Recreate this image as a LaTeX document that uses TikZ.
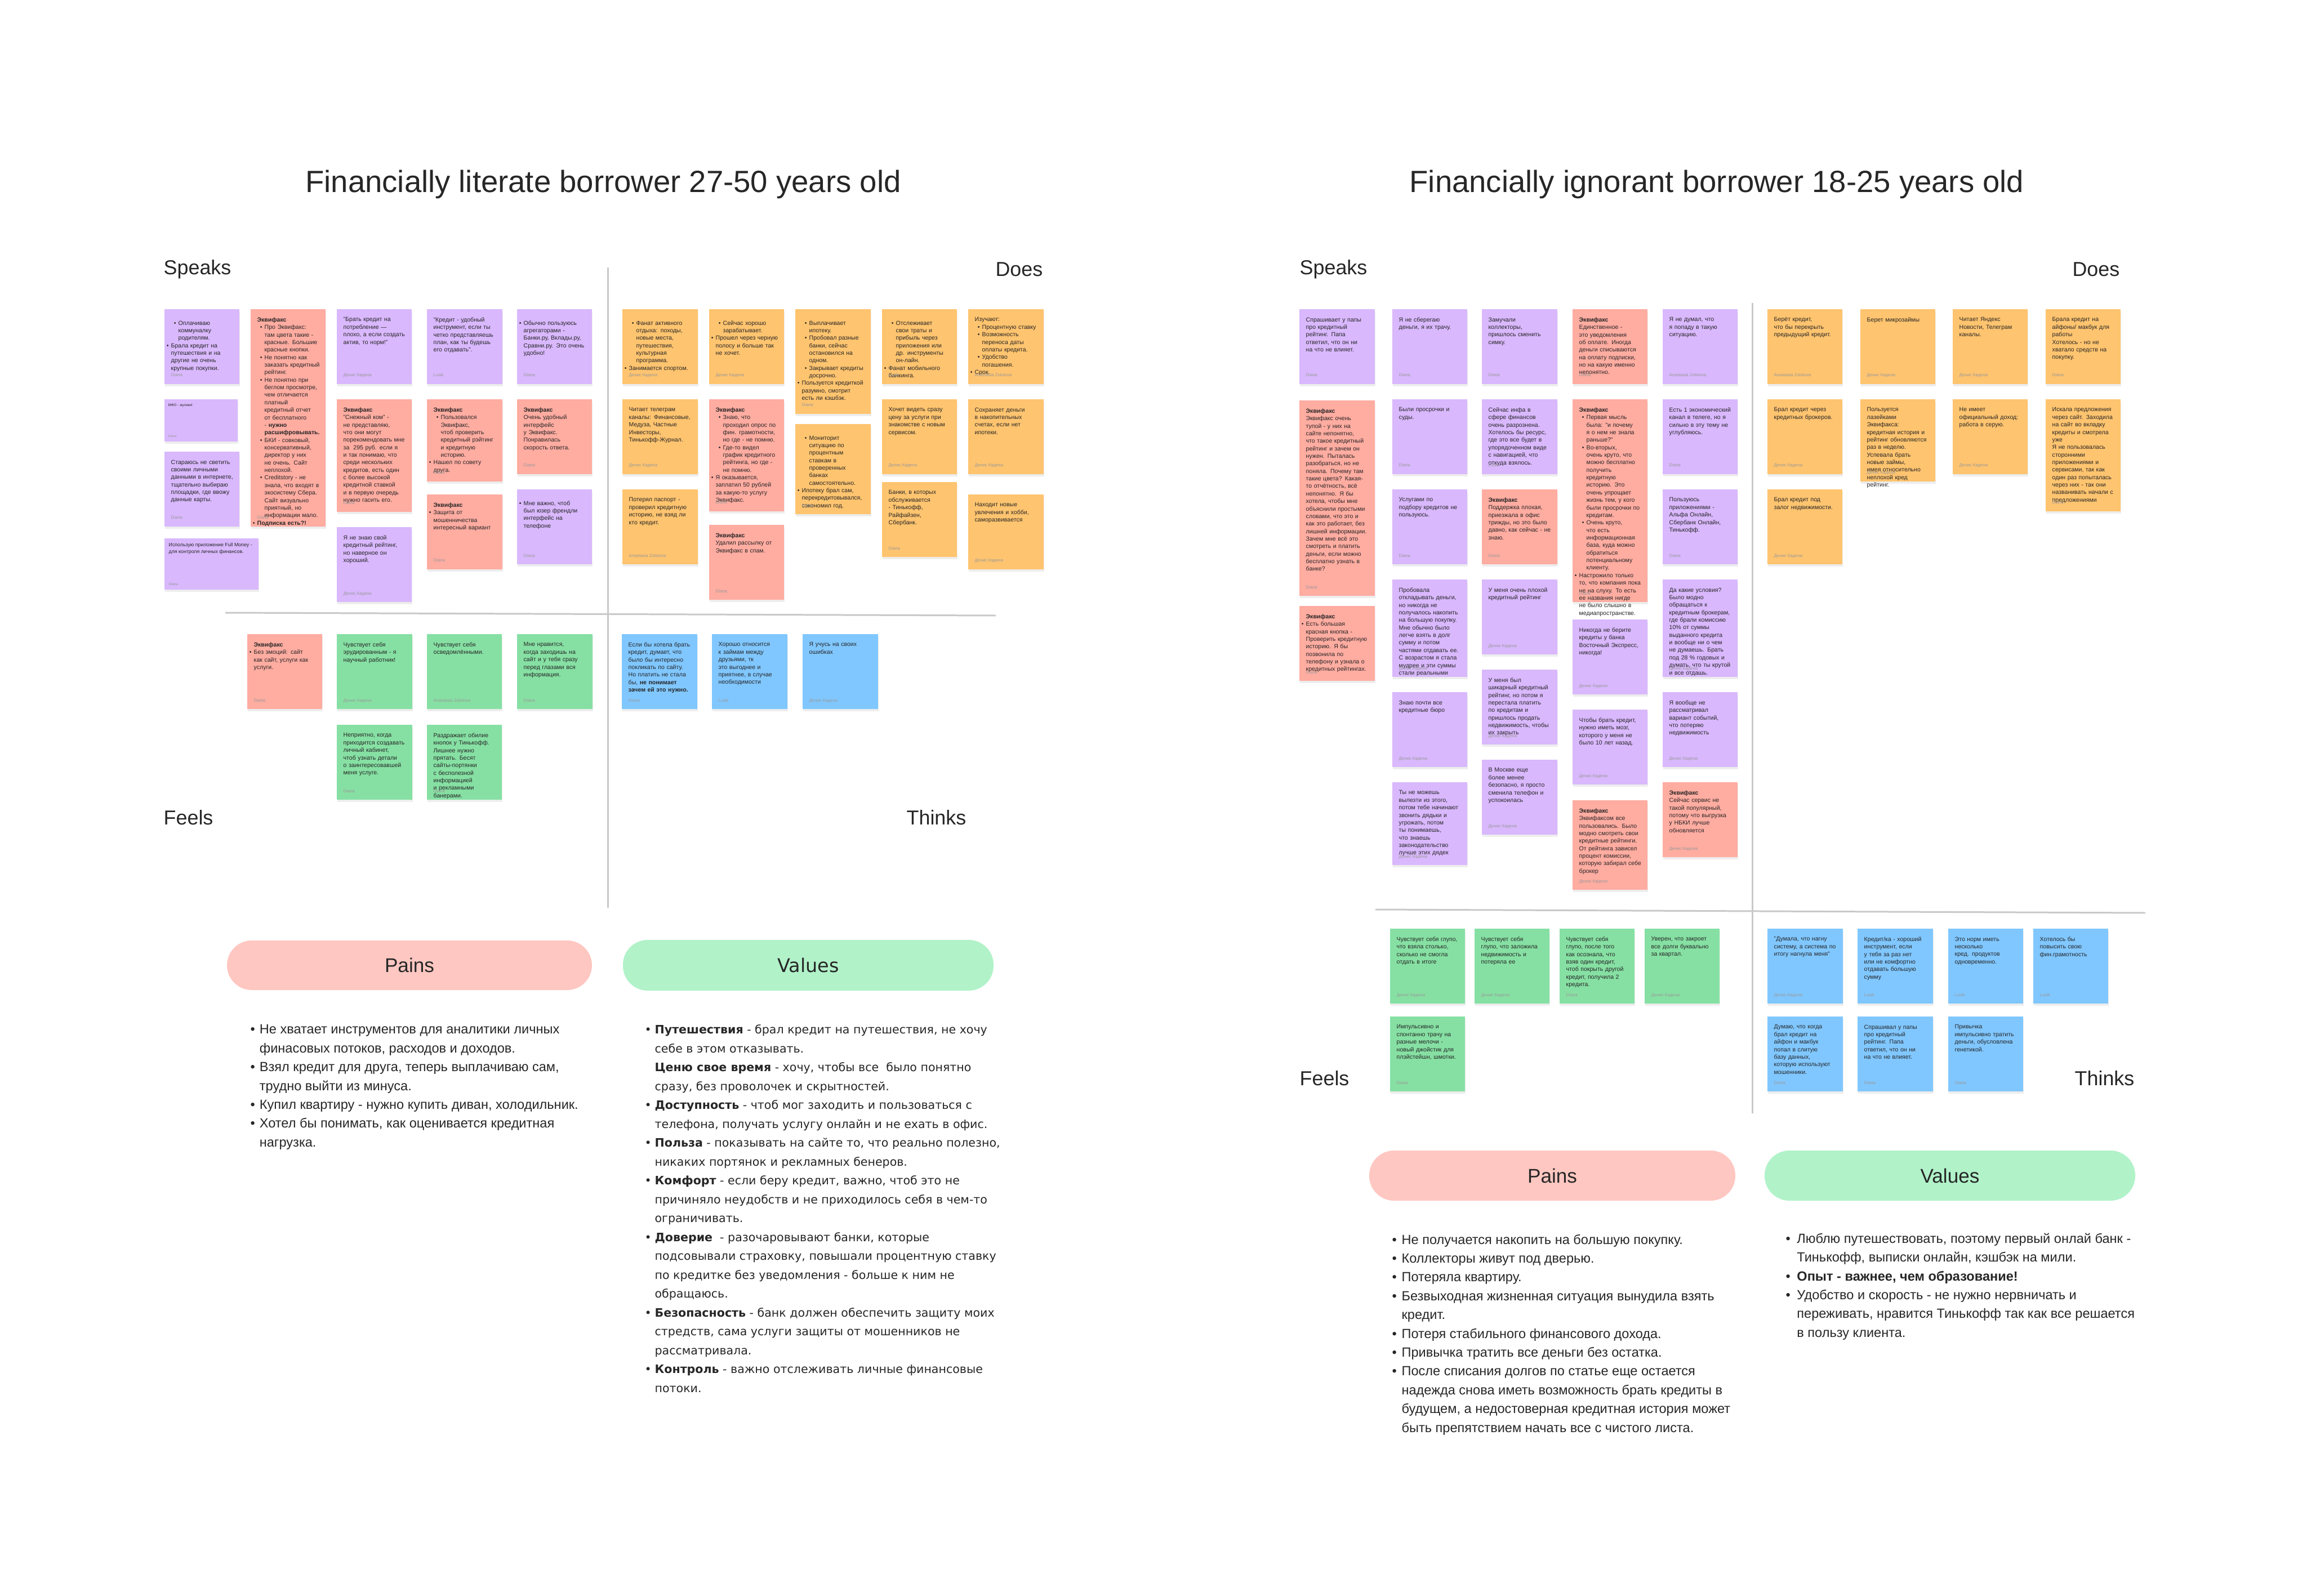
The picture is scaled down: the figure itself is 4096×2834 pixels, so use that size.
\documentclass[tikz,border=0pt]{standalone}
\usepackage{fontspec}
\setmainfont{Liberation Sans}
\newfontfamily\widefont{DejaVu Sans}
\usetikzlibrary{calc}
\definecolor{np}{HTML}{D9B8FD}
\definecolor{nr}{HTML}{FFACA1}
\definecolor{no}{HTML}{FFC46F}
\definecolor{ng}{HTML}{86E0A3}
\definecolor{nb}{HTML}{80C7FF}
\definecolor{pinkpill}{HTML}{FFC7C1}
\definecolor{greenpill}{HTML}{B1F2C9}
\definecolor{axisc}{HTML}{C9C9C9}
\definecolor{txt}{HTML}{262626}
\definecolor{auth}{HTML}{9A9A9A}
\newcommand\bi{\par\hangindent=3.7pt\hangafter=0\noindent\llap{\textbullet\hspace{1.2pt}}}
\newcommand\lbul[1]{\makebox[#1][l]{\textbullet}}
\newcommand\lind[1]{\hspace*{#1}}
\newcommand\sticky[8]{%
  \fill[black,opacity=0.07] (#3+1,#4+4) rectangle ++(#5,#6);
  \fill[#2] (#3,#4) rectangle ++(#5,#6);
  \node[notetext,anchor=north west] (#1) at (#3+11,#4+14) {\parindent=0pt #7};
  \node[authortext,anchor=base west] (#1a) at (#3+11,#4+#6-13) {#8};
}
\begin{document}
\begin{tikzpicture}[x=0.01cm,y=-0.01cm,
  notetext/.style={inner sep=0pt,text width=1.11cm,align=left,text=txt,font=\fontsize{3}{3.8}\selectfont},
  authortext/.style={inner sep=0pt,text=auth,font=\fontsize{2.2}{2.6}\selectfont},
  title/.style={inner sep=0pt,text=txt,font=\fontsize{15.5}{18}\selectfont},
  quad/.style={inner sep=0pt,text=txt,font=\fontsize{10.2}{12}\selectfont},
  axisline/.style={draw=axisc,line width=0.85pt},
  pill/.style={rounded corners=12.5pt},
  pilltext/.style={inner sep=0pt,text=txt,font=\fontsize{10}{12}\selectfont},
  listtext/.style={inner sep=0pt,align=left,text=txt,font=\fontsize{6.7}{9.5}\selectfont},
  widelist/.style={inner sep=0pt,align=left,text=txt,font=\widefont\fontsize{5.85}{9.53}\selectfont}]
\useasboundingbox[fill=white] (0,0) rectangle (4096,2834);

% ---------------- titles ----------------
\node[title] (titleL) at (1071,327) {Financially literate borrower 27-50 years old};
\node[title] (titleR) at (3048,327) {Financially ignorant borrower 18-25 years old};

% ---------------- axes ----------------
\coordinate (lvt) at (1079,475); \coordinate (lvb) at (1079,1612);
\coordinate (lhl) at (400,1088); \coordinate (lhr) at (1768,1093);
\coordinate (rvt) at (3111,538); \coordinate (rvb) at (3111,1977);
\coordinate (rhl) at (2442,1615); \coordinate (rhr) at (3809,1621);
\draw[axisline] (lvt) -- (lvb);
\draw[axisline] (lhl) -- (lhr);
\draw[axisline] (rvt) -- (rvb);
\draw[axisline] (rhl) -- (rhr);

% ---------------- quadrant labels ----------------
\node[quad,anchor=west] (speaksL) at (290,478) {Speaks};
\node[quad,anchor=east] (doesL) at (1852,478) {Does};
\node[quad,anchor=west] (feelsL) at (290,1452) {Feels};
\node[quad,anchor=east] (thinksL) at (1716,1452) {Thinks};
\node[quad,anchor=west] (speaksR) at (2307,478) {Speaks};
\node[quad,anchor=east] (doesR) at (3764,478) {Does};
\node[quad,anchor=west] (feelsR) at (2307,1915) {Feels};
\node[quad,anchor=east] (thinksR) at (3790,1915) {Thinks};

% ================= LEFT: SPEAKS =================
\sticky{s1}{np}{292}{549}{133}{133}{\bi Оплачиваю коммуналку родителям.\bi Брала кредит на путешествия и на другие не очень крупные покупки.}{Diana}
% small note
\fill[black,opacity=0.07] (293,713) rectangle (423,788);
\fill[np] (292,709) rectangle (422,784);
\node[inner sep=0pt,anchor=north west,text=txt,font=\fontsize{1.8}{2.2}\selectfont] (s2) at (298,716) {МФО - жулики!};
\node[authortext,anchor=base west,font=\fontsize{1.6}{2}\selectfont] (s2a) at (298,777) {Diana};
\sticky{s3}{np}{292}{802}{133}{133}{Стараюсь не светить своими личными данными в интернете, тщательно выбираю площадки, где ввожу данные карты.}{Diana}
% wide note
\fill[black,opacity=0.07] (293,960) rectangle (460,1051);
\fill[np] (292,956) rectangle (459,1047);
\node[inner sep=0pt,anchor=north west,text=txt,align=left,font=\fontsize{2.5}{3.6}\selectfont] (s4) at (299,963) {Использую приложение Full Money -\\для контроля личных финансов.};
\node[authortext,anchor=base west,font=\fontsize{1.8}{2}\selectfont] (s4a) at (299,1039) {Diana};

\sticky{s5}{nr}{445}{549}{133}{386}{\textbf{Эквифакс}\bi Про Эквифакс: там цвета такие - красные. Большие красные кнопки.\bi Не понятно как заказать кредитный рейтинг.\bi Не понятно при беглом просмотре, чем отличается платный кредитный отчет от бесплатного - \textbf{нужно расшифровывать.}\bi БКИ - совковый, консервативный, директор у них не очень. Сайт неплохой.\bi Creditstory - не знала, что входят в экосистему Сбера. Сайт визуально приятный, но информации мало.\bi \textbf{Подписка есть?!}}{Diana}

\sticky{s6}{np}{598}{549}{133}{133}{"Брать кредит на потребление — плохо, а если создать актив, то норм!"}{Денис Кадена}
\sticky{s7}{nr}{598}{709}{133}{200}{\textbf{Эквифакс}\par "Снежный ком" - не представляю, что они могут порекомендовать мне за~~295 руб. если я и так понимаю, что среди нескольких кредитов, есть один с более высокой кредитной ставкой и в первую очередь нужно гасить его.}{Diana}
\sticky{s8}{np}{598}{936}{133}{133}{Я не знаю свой кредитный рейтинг, но наверное он хороший.}{Денис Кадена}

\sticky{s9}{np}{758}{549}{134}{133}{"Кредит - удобный инструмент, если ты четко представляешь план, как ты будешь его отдавать".}{Lusik}
\sticky{s10}{nr}{758}{709}{134}{146}{\textbf{Эквифакс}\bi Пользовался Эквифакс, чтоб проверить кредитный рэйтинг и кредитную историю.\bi Нашел по совету друга.}{Diana}
\sticky{s11}{nr}{758}{878}{134}{133}{\textbf{Эквифакс}\bi Защита от мошенничества интересный вариант}{Diana}

\sticky{s12}{np}{918}{549}{133}{133}{\bi Обычно пользуюсь агрегаторами - Банки.ру, Вклады.ру, Сравни.ру. Это очень удобно!}{Diana}
\sticky{s13}{nr}{918}{709}{133}{133}{\textbf{Эквифакс}\par Очень удобный интерфейс у Эквифакс. Понравилась скорость ответа.}{Diana}
\sticky{s14}{np}{918}{869}{133}{133}{\bi Мне важно, чтоб был юзер френдли интерфейс на телефоне}{Diana}

% ================= LEFT: DOES =================
\sticky{d1}{no}{1105}{549}{134}{133}{\bi Фанат активного отдыха: походы, новые места, путешествия, культурная программа.\bi Занимается спортом.}{Денис Кадена}
\sticky{d2}{no}{1105}{709}{134}{133}{Читает телеграм каналы: Финансовые, Медуза, Частные Инвесторы, Тинькофф-Журнал.}{Денис Кадена}
\sticky{d3}{no}{1105}{869}{134}{133}{Потерял паспорт - проверил кредитную историю, не взяд ли кто кредит.}{Anastasia Zolotova}
\sticky{d4}{no}{1259}{549}{133}{133}{\bi Сейчас хорошо зарабатывает.\bi Прошел через черную полосу и больше так не хочет.}{Денис Кадена}
\sticky{d5}{nr}{1259}{709}{133}{199}{\textbf{Эквифакс}\bi Знаю, что проходил опрос по фин. грамотности, но где - не помню.\bi Где-то видел график кредитного рейтинга, но где - не помню.\bi Я оказывается, заплатил 50 рублей за какую-то услугу Эквифакс.}{Diana}
\sticky{d6}{nr}{1259}{932}{133}{133}{\textbf{Эквифакс}\par Удалил рассылку от Эквифакс в спам.}{Diana}
\sticky{d7}{no}{1412}{549}{134}{186}{\bi Выплачивает ипотеку.\bi Пробовал разные банки, сейчас остановился на одном.\bi Закрывает кредиты досрочно.\bi Пользуется кредиткой разумно, смотрит есть ли кэшбэк.}{Diana}
\sticky{d8}{no}{1412}{753}{134}{160}{\bi Мониторит ситуацию по процентным ставкам в проверенных банках самостоятельно.\bi Ипотеку брал сам, перекредитовывался, сэкономил год.}{Diana}
\sticky{d9}{no}{1566}{549}{133}{133}{\bi Отслеживает свои траты и прибыль через приложения или др. инструменты он-лайн.\bi Фанат мобильного банкинга.}{Lusik}
\sticky{d10}{no}{1566}{709}{133}{133}{Хочет видеть сразу цену за услуги при знакомстве с новым сервисом.}{Денис Кадена}
\sticky{d11}{no}{1566}{856}{133}{133}{Банки, в которых обслуживается - Тинькофф, Райфайзен, Сбербанк.}{Diana}
\sticky{d12}{no}{1719}{549}{134}{133}{Изучают:\bi Процентную ставку\bi Возможность переноса даты оплаты кредита.\bi Удобство погашения.\bi Срок.}{Anastasia Zolotova}
\sticky{d13}{no}{1719}{709}{134}{133}{Сохраняет деньги в накопительных счетах, если нет ипотеки.}{Денис Кадена}
\sticky{d14}{no}{1719}{878}{134}{133}{Находит новые увлечения и хобби, саморазвивается}{Денис Кадена}

% ================= LEFT: FEELS / THINKS =================
\sticky{f1}{nr}{439}{1126}{133}{133}{\textbf{Эквифакс}\bi Без эмоций: сайт как сайт, услуги как услуги.}{Diana}
\sticky{f2}{ng}{598}{1126}{134}{133}{Чувствует себя эрудированным - я научный работник!}{Денис Кадена}
\sticky{f3}{ng}{758}{1126}{133}{133}{Чувствует себя осведомлёнными.}{Anastasia Zolotova}
\sticky{f4}{ng}{918}{1126}{134}{133}{Мне нравится, когда заходишь на сайт и у тебя сразу перед глазами вся информация.}{Diana}
\sticky{f5}{ng}{598}{1287}{134}{133}{Неприятно, когда приходится создавать личный кабинет, чтоб узнать детали о заинтересовавшей меня услуге.}{Diana}
\sticky{f6}{ng}{758}{1287}{133}{133}{Раздражает обилие кнопок у Тинькофф. Лишнее нужно прятать. Бесят сайты-портянки с бесполезной информацией и рекламными банерами.}{Diana}
\sticky{t1}{nb}{1104}{1126}{134}{133}{Если бы хотела брать кредит, думает, что было бы интересно покликать по сайту. Но платить не стала бы, \textbf{не понимает зачем ей это нужно.}}{Diana}
\sticky{t2}{nb}{1264}{1126}{134}{133}{Хорошо относится к займам между друзьями, тк это выгоднее и приятнее, в случае необходимости}{Lusik}
\sticky{t3}{nb}{1425}{1126}{134}{133}{Я учусь на своих ошибках}{Денис Кадена}

% ================= LEFT: PAINS / VALUES =================
\fill[pinkpill,pill] (403,1670) rectangle (1051,1758);
\node[pilltext] (painsL) at (727,1714) {Pains};
\fill[greenpill,pill] (1106,1669) rectangle (1764,1759);
\node[pilltext,font=\widefont\fontsize{9.5}{12}\selectfont] (valuesL) at (1435,1714) {Values};

\node[listtext,anchor=north west] (painsLlist) at (444,1819) {%
\lbul{4.6pt}Не хватает инструментов для аналитики личных\\
\lind{4.6pt}финасовых потоков, расходов и доходов.\\
\lbul{4.6pt}Взял кредит для друга, теперь выплачиваю сам,\\
\lind{4.6pt}трудно выйти из минуса.\\
\lbul{4.6pt}Купил квартиру - нужно купить диван, холодильник.\\
\lbul{4.6pt}Хотел бы понимать, как оценивается кредитная\\
\lind{4.6pt}нагрузка.};

\node[widelist,anchor=north west] (valuesLlist) at (1144,1819) {%
\lbul{5.1pt}\textbf{Путешествия} - брал кредит на путешествия, не хочу\\
\lind{5.1pt}себе в этом отказывать.\\
\lind{5.1pt}\textbf{Ценю свое время} - хочу, чтобы все\ \ было понятно\\
\lind{5.1pt}сразу, без проволочек и скрытностей.\\
\lbul{5.1pt}\textbf{Доступность} - чтоб мог заходить и пользоваться с\\
\lind{5.1pt}телефона, получать услугу онлайн и не ехать в офис.\\
\lbul{5.1pt}\textbf{Польза} - показывать на сайте то, что реально полезно,\\
\lind{5.1pt}никаких портянок и рекламных бенеров.\\
\lbul{5.1pt}\textbf{Комфорт} - если беру кредит, важно, чтоб это не\\
\lind{5.1pt}причиняло неудобств и не приходилось себя в чем-то\\
\lind{5.1pt}ограничивать.\\
\lbul{5.1pt}\textbf{Доверие}\ \ - разочаровывают банки, которые\\
\lind{5.1pt}подсовывали страховку, повышали процентную ставку\\
\lind{5.1pt}по кредитке без уведомления - больше к ним не\\
\lind{5.1pt}обращаюсь.\\
\lbul{5.1pt}\textbf{Безопасность} - банк должен обеспечить защиту моих\\
\lind{5.1pt}стредств, сама услуги защиты от мошенников не\\
\lind{5.1pt}рассматривала.\\
\lbul{5.1pt}\textbf{Контроль} - важно отслеживать личные финансовые\\
\lind{5.1pt}потоки.};

% ================= RIGHT: SPEAKS =================
\sticky{ra1}{np}{2307}{549}{134}{133}{Спрашивает у папы про кредитный рейтинг. Папа ответил, что он ни на что не влияет.}{Diana}
\sticky{ra2}{nr}{2307}{711}{134}{347}{\textbf{Эквифакс}\par Эквифакс очень тупой - у них на сайте непонятно, что такое кредитный рейтинг и зачем он нужен. Пыталась разобраться, но не поняла. Почему там такие цвета? Какая-то отчётность, всё непонятно. Я бы хотела, чтобы мне объяснили простыми словами, что это и как это работает, без лишней информации. Зачем мне всё это смотреть и платить деньги, если можно бесплатно узнать в банке?}{Diana}
\sticky{ra3}{nr}{2307}{1076}{134}{133}{\textbf{Эквифакс}\bi Есть большая красная кнопка - Проверить кредитную историю. Я бы позвонила по телефону и узнала о кредитных рейтингах.}{Diana}

\sticky{rb1}{np}{2472}{549}{133}{133}{Я не сберегаю деньги, я их трачу.}{Diana}
\sticky{rb2}{np}{2472}{709}{133}{133}{Были просрочки и суды.}{Diana}
\sticky{rb3}{np}{2472}{869}{133}{133}{Услугами по подбору кредитов не пользуюсь.}{Diana}
\sticky{rb4}{np}{2472}{1029}{133}{173}{Пробовала откладывать деньги, но никогда не получалось накопить на большую покупку. Мне обычно было легче взять в долг сумму и потом частями отдавать ее. С возрастом я стала мудрее и эти суммы стали реальными}{Денис Кадена}
\sticky{rb5}{np}{2472}{1229}{133}{133}{Знаю почти все кредитные бюро}{Денис Кадена}
\sticky{rb6}{np}{2472}{1389}{133}{147}{Ты не можешь вылезти из этого, потом тебе начинают звонить дядьки и угрожать, потом ты понимаешь, что знаешь законодательство лучше этих дядек}{Денис Кадена}

\sticky{rc1}{np}{2631}{549}{134}{133}{Замучали коллекторы, пришлось сменить симку.}{Diana}
\sticky{rc2}{np}{2631}{709}{134}{133}{Сейчас инфа в сфере финансов очень разрознена. Хотелось бы ресурс, где это все будет в упорядоченном виде с навигацией, что откуда взялось.}{Lusik}
\sticky{rc3}{nr}{2631}{869}{134}{133}{\textbf{Эквифакс}\par Поддержка плохая, приезжала в офис трижды, но это было давно, как сейчас - не знаю.}{Diana}
\sticky{rc4}{np}{2631}{1029}{134}{133}{У меня очень плохой кредитный рейтинг}{Денис Кадена}
\sticky{rc5}{np}{2631}{1189}{134}{133}{У меня был шикарный кредитный рейтинг, но потом я перестала платить по кредитам и пришлось продать недвижимость, чтобы их закрыть}{Денис Кадена}
\sticky{rc6}{np}{2631}{1349}{134}{133}{В Москве еще более менее безопасно, я просто сменила телефон и успокоилась}{Денис Кадена}

\sticky{rd1}{nr}{2792}{549}{133}{133}{\textbf{Эквифакс}\par Единственное - это уведомления об оплате. Иногда деньги списываются на оплату подписки, но на какую именно непонятно.}{Diana}
\sticky{rd2}{nr}{2792}{709}{133}{360}{\textbf{Эквифакс}\bi Первая мысль была: "и почему я о нем не знала раньше?"\bi Во-вторых, очень круто, что можно бесплатно получить кредитную историю. Это очень упрощает жизнь тем, у кого были просрочки по кредитам.\bi Очень круто, что есть информационная база, куда можно обратиться потенциальному клиенту.\bi Настрожило только то, что компания пока не на слуху. То есть ее названия нигде не было слышно в медиапространстве.}{Diana}
\sticky{rd3}{np}{2792}{1100}{133}{133}{Никогда не берите кредиты у банка Восточный Экспресс, никогда!}{Денис Кадена}
\sticky{rd4}{np}{2792}{1260}{133}{133}{Чтобы брать кредит, нужно иметь мозг, которого у меня не было 10 лет назад.}{Денис Кадена}
\sticky{rd5}{nr}{2792}{1421}{133}{159}{\textbf{Эквифакс}\par Эквифаксом все пользовались. Было модно смотреть свои кредитные рейтинги. От рейтинга зависел процент комиссии, которую забирал себе брокер}{Денис Кадена}

\sticky{re1}{np}{2952}{549}{133}{133}{Я не думал, что я попаду в такую ситуацию.}{Anastasia Zolotova}
\sticky{re2}{np}{2952}{709}{133}{133}{Есть 1 экономический канал в телеге, но я сильно в эту тему не углубляюсь.}{Diana}
\sticky{re3}{np}{2952}{869}{133}{133}{Пользуюсь приложениями - Альфа Онлайн, Сбербанк Онлайн, Тинькофф.}{Diana}
\sticky{re4}{np}{2952}{1029}{133}{173}{Да какие условия? Было модно обращаться к кредитным брокерам, где брали комиссию 10\% от суммы выданного кредита и вообще ни о чем не думаешь. Брать под 28~\% годовых и думать, что ты крутой и все отдашь.}{Денис Кадена}
\sticky{re5}{np}{2952}{1229}{133}{133}{Я вообще не рассматривал вариант событий, что потеряю недвижимость}{Денис Кадена}
\sticky{re6}{nr}{2952}{1389}{133}{133}{\textbf{Эквифакс}\par Сейчас сервис не такой популярный, потому что выгрузка у НБКИ лучше обновляется}{Денис Кадена}

% ================= RIGHT: DOES =================
\sticky{rr1}{no}{3138}{549}{133}{133}{Берёт кредит, что бы перекрыть предыдущий кредит.}{Anastasia Zolotova}
\sticky{rr2}{no}{3303}{549}{133}{133}{Берет микрозаймы}{Денис Кадена}
\sticky{rr3}{no}{3467}{549}{133}{133}{Читает Яндекс Новости, Телеграм каналы.}{Денис Кадена}
\sticky{rr4}{no}{3632}{549}{133}{133}{Брала кредит на айфоны/ макбук для работы\par Хотелось - но не хватало средств на покупку.}{Diana}
\sticky{rr5}{no}{3138}{709}{133}{133}{Брал кредит через кредитных брокеров.}{Денис Кадена}
\sticky{rr6}{no}{3303}{709}{133}{146}{Пользуется лазейками Эквифакса: кредитная история и рейтинг обновляются раз в неделю. Успевала брать новые займы, имея относительно неплохой кред рейтинг.}{Денис Кадена}
\sticky{rr7}{no}{3467}{709}{133}{133}{Не имеет официальный доход: работа в серую.}{Денис Кадена}
\sticky{rr8}{no}{3632}{709}{133}{199}{Искала предложения через сайт. Заходила на сайт во вкладку кредиты и смотрела уже\par Я не пользовалась сторонними приложениями и сервисами, так как один раз попыталась через них - так они названивать начали с предложениями}{Diana}
\sticky{rr9}{no}{3138}{869}{133}{133}{Брал кредит под залог недвижимости.}{Денис Кадена}

% ================= RIGHT: FEELS / THINKS =================
\sticky{rg1}{ng}{2468}{1649}{133}{133}{Чувствует себя глупо, что взяла столько, сколько не смогла отдать в итоге}{Денис Кадена}
\sticky{rg2}{ng}{2618}{1649}{133}{133}{Чувствует себя глупо, что заложила недвижимость и потеряла ее}{Денис Кадена}
\sticky{rg3}{ng}{2769}{1649}{133}{133}{Чувствует себя глупо, после того как осознала, что взяв один кредит, чтоб покрыть другой кредит, получила 2 кредита.}{Diana}
\sticky{rg4}{ng}{2920}{1649}{133}{133}{Уверен, что закроет все долги буквально за квартал.}{Денис Кадена}
\sticky{rg5}{ng}{2468}{1805}{133}{133}{Импульсивно и спонтанно трачу на разные мелочи - новый джойстик для плэйстейшн, шмотки.}{Diana}

\sticky{rh1}{nb}{3138}{1649}{134}{133}{"Думала, что нагну систему, а система по итогу нагнула меня"}{Денис Кадена}
\sticky{rh2}{nb}{3298}{1649}{134}{133}{Кредит/ка - хороший инструмент, если у тебя за раз нет или не комфортно отдавать большую сумму}{Lusik}
\sticky{rh3}{nb}{3459}{1649}{133}{133}{Это норм иметь несколько кред. продуктов одновременно.}{Lusik}
\sticky{rh4}{nb}{3610}{1649}{133}{133}{Хотелось бы повысить свою фин.грамотность}{Lusik}
\sticky{rh5}{nb}{3138}{1805}{134}{133}{Думаю, что когда брал кредит на айфон и макбук попал в слитую базу данных, которую используют мошенники.}{Diana}
\sticky{rh6}{nb}{3298}{1805}{134}{133}{Спрашивал у папы про кредитный рейтинг. Папа ответил, что он ни на что не влияет.}{Diana}
\sticky{rh7}{nb}{3459}{1805}{133}{133}{Привычка импульсивно тратить деньги, обусловлена генетикой.}{Diana}

% ================= RIGHT: PAINS / VALUES =================
\fill[pinkpill,pill] (2431,2043) rectangle (3081,2132);
\node[pilltext] (painsR) at (2756,2088) {Pains};
\fill[greenpill,pill] (3133,2043) rectangle (3791,2132);
\node[pilltext] (valuesR) at (3462,2088) {Values};

\node[listtext,anchor=north west] (painsRlist) at (2471,2191) {%
\lbul{4.8pt}Не получается накопить на большую покупку.\\
\lbul{4.8pt}Коллекторы живут под дверью.\\
\lbul{4.8pt}Потеряла квартиру.\\
\lbul{4.8pt}Безвыходная жизненная ситуация вынудила взять\\
\lind{4.8pt}кредит.\\
\lbul{4.8pt}Потеря стабильного финансового дохода.\\
\lbul{4.8pt}Привычка тратить все деньги без остатка.\\
\lbul{4.8pt}После списания долгов по статье еще остается\\
\lind{4.8pt}надежда снова иметь возможность брать кредиты в\\
\lind{4.8pt}будущем, а недостоверная кредитная история может\\
\lind{4.8pt}быть препятствием начать все с чистого листа.};

\node[listtext,anchor=north west] (valuesRlist) at (3170,2189) {%
\lbul{5.6pt}Люблю путешествовать, поэтому первый онлай банк -\\
\lind{5.6pt}Тинькофф, выписки онлайн, кэшбэк на мили.\\
\lbul{5.6pt}\textbf{Опыт - важнее, чем образование!}\\
\lbul{5.6pt}Удобство и скорость - не нужно нервничать и\\
\lind{5.6pt}переживать, нравится Тинькофф так как все решается\\
\lind{5.6pt}в пользу клиента.};
\end{tikzpicture}
\end{document}
